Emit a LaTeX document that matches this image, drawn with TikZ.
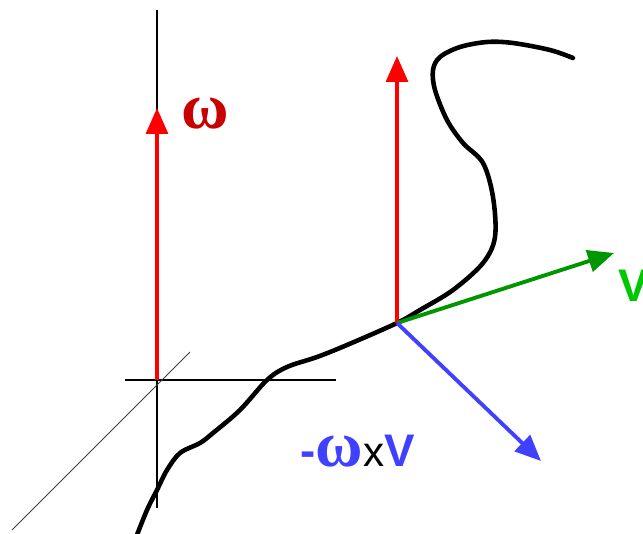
\documentclass[tikz,border=0pt]{standalone}
\usepackage{fontspec}
\usepackage{xcolor}
\usepackage{tikz}
\usetikzlibrary{arrows.meta}
\newfontfamily\greekfont{Liberation Serif}
\newfontfamily\labelfont{Liberation Sans}
\definecolor{omegared}{RGB}{200,0,0}
\definecolor{velgreen}{RGB}{0,150,0}
\definecolor{vlabgreen}{RGB}{0,200,0}
\definecolor{forceblue}{RGB}{64,64,255}
\tikzset{
  axis/.style   ={black, line width=0.8pt},
  skew/.style   ={black!75, line width=0.6pt},
  path/.style   ={black, line width=2.6pt, line cap=round, line join=round},
  vec/.style    ={-{Triangle[length=0.52cm, width=0.44cm]}, line width=2.2pt},
  omvec/.style  ={vec, red, line width=1.8pt},
  lab/.style    ={inner sep=0pt, anchor=base west},
}

\begin{document}
\begin{tikzpicture}[x=0.02cm, y=-0.02cm]
  \useasboundingbox (0,0) rectangle (643,534);
  % origin and point on the path
  \coordinate (O)  at (157,380);
  \coordinate (P)  at (397,323);
  % axes
  \coordinate (zt) at (157,10);
  \coordinate (zb) at (157,508);
  \coordinate (xl) at (125,380);
  \coordinate (xr) at (336,380);
  \coordinate (yl) at (12,530);
  \coordinate (yr) at (190,352);
  \draw[axis] (zt) -- (zb);
  \draw[axis] (xl) -- (xr);
  \draw[skew] (yl) -- (yr);

  % the path
  \draw[path] plot[smooth, tension=0.55] coordinates {
    (135,540) (147,510) (157,490) (167,470) (180,453) (200,443) (213,433)
    (240,410) (267,380) (287,367) (317,357) (347,345) (397,323) (420,310)
    (453,290) (483,263) (495,237) (493,197) (483,163) (463,143) (447,120)
    (435,90) (433,70) (440,57) (460,47) (487,42) (513,43) (550,50) (573,58)};

  % vector tips
  \coordinate (wO) at (157,108);
  \coordinate (wP) at (397,56);
  \coordinate (vt) at (614,253);
  \coordinate (ft) at (541,461);

  \draw[omvec] (O) -- (wO);
  \draw[omvec] (P) -- (wP);
  \draw[vec, velgreen] (P) -- (vt);
  \draw[vec, forceblue] (P) -- (ft);

  % labels
  \node[lab, text=omegared] (wlab) at (181,128)
       {\greekfont\bfseries\fontsize{37}{37}\selectfont ω};
  \node[lab, text=vlabgreen] (vlab) at (618,301)
       {\labelfont\bfseries\fontsize{26}{26}\selectfont V};
  \node[lab] (flab) at (300,466)
       {\textcolor{forceblue}{\labelfont\bfseries\fontsize{26}{26}\selectfont -}%
        \textcolor{forceblue}{\greekfont\bfseries\fontsize{37}{37}\selectfont ω}%
        {\labelfont\fontsize{24}{24}\selectfont x}%
        \textcolor{forceblue}{\labelfont\bfseries\fontsize{26}{26}\selectfont V}};
\end{tikzpicture}
\end{document}
